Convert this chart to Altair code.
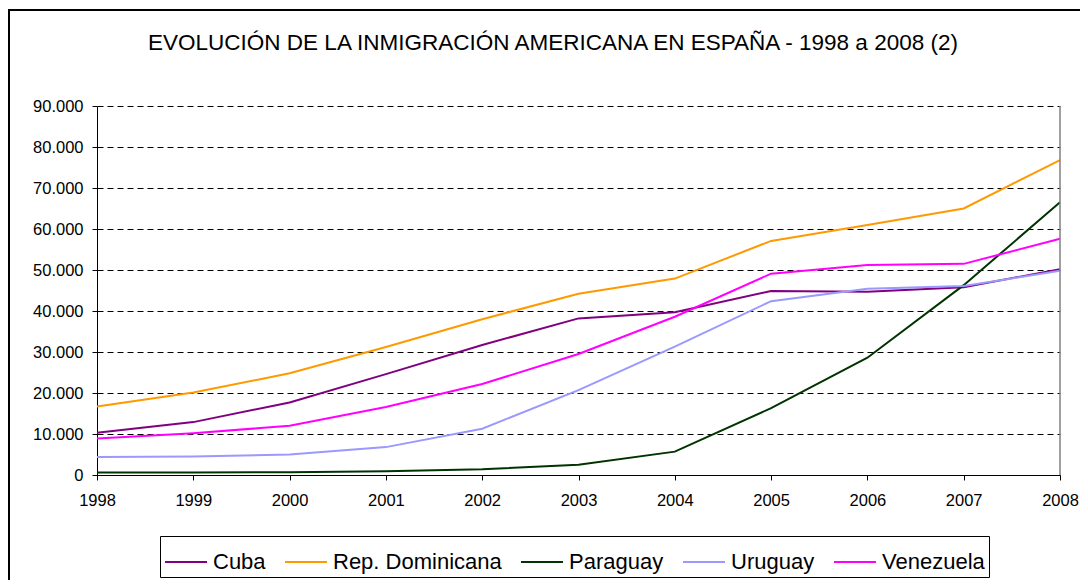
import altair as alt
import pandas as pd

years = [1998, 1999, 2000, 2001, 2002, 2003, 2004, 2005, 2006, 2007, 2008]
countries = ["Cuba", "Rep. Dominicana", "Paraguay", "Uruguay", "Venezuela"]
colors = ["#800080", "#FF9900", "#003300", "#9999FF", "#FF00FF"]

cuba = [10300, 12900, 17700, 24600, 31700, 38200, 39700, 44900, 44700, 45800, 50200]
rep_dominicana = [16700, 20100, 24800, 31200, 38000, 44200, 47900, 57100, 61000, 65000, 76800]
paraguay = [600, 600, 700, 900, 1400, 2500, 5700, 16300, 28600, 46300, 66500]
uruguay = [4400, 4500, 5000, 6800, 11300, 20700, 31300, 42400, 45400, 46100, 49800]
venezuela = [8900, 10200, 12000, 16600, 22200, 29500, 38600, 49100, 51200, 51500, 57600]

y_ticks = [0, 10000, 20000, 30000, 40000, 50000, 60000, 70000, 80000, 90000]
title_text = "EVOLUCIÓN DE LA INMIGRACIÓN AMERICANA EN ESPAÑA - 1998 a 2008 (2)"

series = [cuba, rep_dominicana, paraguay, uruguay, venezuela]
rows = []
for i, (c, vals) in enumerate(zip(countries, series)):
    for y, v in zip(years, vals):
        rows.append({"Año": y, "País": c, "Valor": v, "orden": i})
df = pd.DataFrame(rows)

FONT = "Liberation Sans"
W, H = 963, 369

lines = alt.Chart(df).mark_line(strokeWidth=2, clip=False).encode(
    x=alt.X("Año:Q",
            scale=alt.Scale(domain=[1998, 2008], nice=False, zero=False),
            axis=alt.Axis(values=years, format="d", title=None, grid=False,
                          tickSize=5, labelPadding=12, labelFontSize=16.5,
                          labelFont=FONT, labelColor="black", domainColor="black",
                          tickColor="black", labelFlush=False)),
    y=alt.Y("Valor:Q",
            scale=alt.Scale(domain=[0, 90000], nice=False),
            axis=alt.Axis(values=y_ticks, title=None, grid=True, gridColor="black",
                          gridDash=[6, 4], gridWidth=1, tickSize=5, labelPadding=9,
                          labelFontSize=16.5, labelFont=FONT, labelColor="black",
                          domainColor="black", tickColor="black",
                          labelExpr="replace(format(datum.value, ','), ',', '.')")),
    color=alt.Color("País:N",
                    scale=alt.Scale(domain=countries, range=colors),
                    sort=countries,
                    legend=alt.Legend(title=None)),
    order=alt.Order("orden:Q"),
    detail="País:N",
)

one = alt.Data(values=[{}])

right_border = alt.Chart(one).mark_rule(color="#808080", strokeWidth=1.5).encode(
    x=alt.value(W), y=alt.value(0), y2=alt.value(H)
)
left_edge = alt.Chart(one).mark_rule(color="black", strokeWidth=2).encode(
    x=alt.value(-88), y=alt.value(-96), y2=alt.value(H + 130)
)
top_edge = alt.Chart(one).mark_rule(color="black", strokeWidth=2).encode(
    x=alt.value(-89), x2=alt.value(W + 40), y=alt.value(-96)
)
title = alt.Chart(one).mark_text(
    text=title_text, font=FONT, fontSize=22.5, color="black",
    align="center", baseline="alphabetic"
).encode(x=alt.value(456), y=alt.value(-56))

chart = alt.layer(left_edge, top_edge, title, lines, right_border).properties(
    width=W, height=H,
    background="white",
    autosize=alt.AutoSizeParams(type="none"),
    padding={"left": 89, "top": 98, "right": 20, "bottom": 105},
).configure_view(stroke=None).configure_legend(
    orient="none", legendX=63, legendY=430, direction="horizontal",
    strokeColor="black", strokeWidth=1, padding=4, fillColor="white",
    symbolType="stroke", symbolSize=1764, symbolStrokeWidth=2,
    labelFont=FONT, labelFontSize=22, labelColor="black", labelOffset=5,
    labelLimit=400, columnPadding=15,
)

chart.save("out.html", embed_options={"renderer": "svg", "actions": False})
